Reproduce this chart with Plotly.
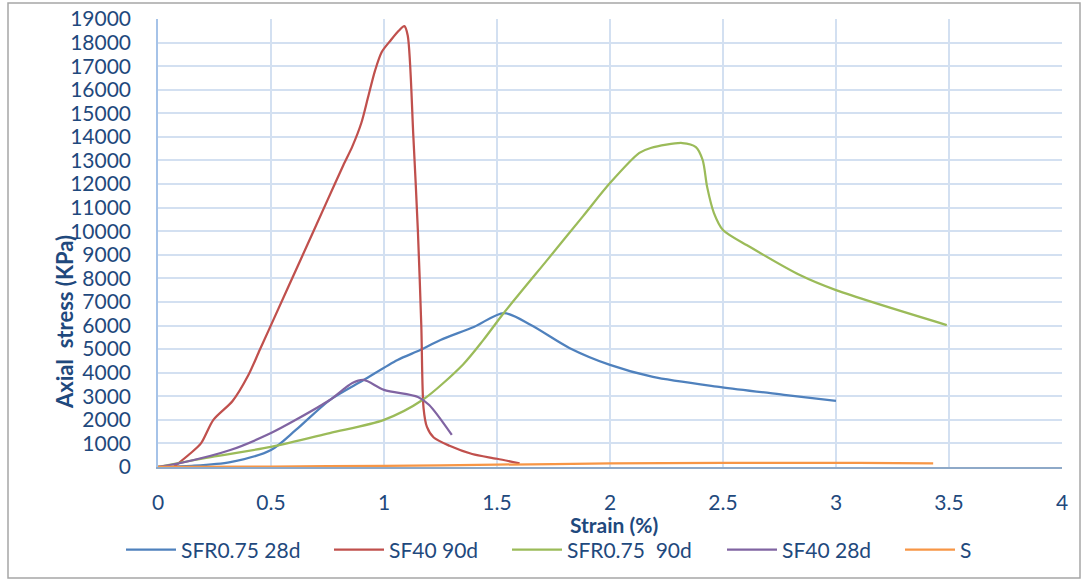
import plotly.graph_objects as go

# ---- data (strain %, axial stress kPa) ----
sfr075_28d_x = [0, 0.15, 0.32, 0.5, 0.61, 0.76, 0.91, 1.06, 1.16, 1.25, 1.4, 1.53, 1.65, 1.82, 2.0, 2.19, 2.49, 2.78, 3.0]
sfr075_28d_y = [0, 50, 210, 720, 1570, 2840, 3690, 4540, 4960, 5390, 5950, 6530, 6020, 5050, 4330, 3820, 3390, 3050, 2800]

sf40_90d_x = [0.07, 0.14, 0.19, 0.245, 0.33, 0.40, 0.45, 0.52, 0.63, 0.75, 0.82, 0.86, 0.9, 0.93, 0.96, 0.99, 1.03, 1.065,
              1.09, 1.105, 1.13, 1.15, 1.165, 1.175, 1.19, 1.22, 1.29, 1.39, 1.5, 1.6]
sf40_90d_y = [0, 550, 1000, 2000, 2800, 3900, 4960, 6440, 8770, 11320, 12800, 13600, 14600, 15700, 16800, 17600, 18100,
              18500, 18700, 18300, 14000, 10000, 6000, 2500, 1700, 1250, 900, 550, 350, 150]

sfr075_90d_x = [0, 0.25, 0.5, 0.76, 1.0, 1.17, 1.35, 1.44, 1.53, 1.73, 1.88, 2.0, 2.13, 2.18, 2.32, 2.38, 2.41, 2.43,
                2.46, 2.5, 2.62, 2.84, 3.0, 3.49]
sfr075_90d_y = [0, 450, 850, 1440, 2000, 2840, 4350, 5390, 6530, 8870, 10630, 12040, 13320, 13530, 13740, 13570, 13020,
                11870, 10770, 10050, 9330, 8140, 7500, 6020]

sf40_28d_x = [0, 0.1, 0.32, 0.5, 0.61, 0.76, 0.86, 0.91, 1.0, 1.15, 1.2, 1.3]
sf40_28d_y = [0, 170, 720, 1440, 2000, 2840, 3560, 3690, 3270, 2970, 2630, 1360]

s_x = [0, 0.5, 1.0, 1.5, 2.0, 2.5, 2.8, 3.1, 3.43]
s_y = [0, 20, 50, 100, 150, 170, 180, 175, 150]

series_names = ["SFR0.75 28d", "SF40 90d", "SFR0.75  90d", "SF40 28d", "S"]
series_x = [sfr075_28d_x, sf40_90d_x, sfr075_90d_x, sf40_28d_x, s_x]
series_y = [sfr075_28d_y, sf40_90d_y, sfr075_90d_y, sf40_28d_y, s_y]
series_colors = ["#4F81BD", "#C0504D", "#9BBB59", "#8064A2", "#F79646"]
legend_px = [121, 329, 507, 722, 900]  # left pixel of each legend entry

x_ticks = [0, 0.5, 1, 1.5, 2, 2.5, 3, 3.5, 4]
y_ticks = list(range(0, 19001, 1000))

TXT = "#1F497D"
FONT = "Lato"
L, R, T, B = 158, 23, 19, 115
PW, PH = 1085 - L - R, 582 - T - B


def px_x(p):
    return (p - L) / PW


def px_y(p):
    return (582 - B - p) / PH


fig = go.Figure()
legend_layouts = {}
for i, (name, xs, ys, col) in enumerate(zip(series_names, series_x, series_y, series_colors)):
    lname = "legend" if i == 0 else f"legend{i + 1}"
    fig.add_trace(go.Scatter(x=xs, y=ys, name=name, mode="lines", legend=lname,
                             line=dict(color=col, width=2.25, shape="spline", smoothing=0.8)))
    legend_layouts[lname] = dict(orientation="h", x=px_x(legend_px[i]), xanchor="left",
                                 y=px_y(550), yanchor="middle",
                                 font=dict(size=21, color=TXT, family=FONT), itemwidth=50,
                                 bgcolor="rgba(0,0,0,0)")

fig.update_layout(
    width=1085, height=582,
    margin=dict(l=L, r=R, t=T, b=B, autoexpand=False),
    paper_bgcolor="white", plot_bgcolor="white",
    font=dict(family=FONT, color=TXT, size=20),
    showlegend=True,
    xaxis=dict(range=[0, 4], tickvals=x_ticks, ticktext=[str(v) for v in x_ticks],
               showgrid=True, gridcolor="#D3E0F1", gridwidth=1.5,
               showline=True, linecolor="#8EA9C8", linewidth=1.5, automargin=False,
               zeroline=False, ticks="", ticklabelstandoff=16,
               tickfont=dict(size=21, color=TXT, family=FONT), fixedrange=True),
    yaxis=dict(range=[0, 19000], tickvals=y_ticks, ticktext=[str(v) for v in y_ticks],
               showgrid=True, gridcolor="#D3E0F1", gridwidth=1.5,
               showline=True, linecolor="#A6C3E8", linewidth=1.5, automargin=False,
               zeroline=False, ticks="", ticklabelstandoff=21,
               tickfont=dict(size=21, color=TXT, family=FONT), fixedrange=True),
    annotations=[
        dict(text="<b>Axial  stress (KPa)</b>", xref="paper", yref="paper",
             x=px_x(64), y=px_y(322), xanchor="center", yanchor="middle",
             textangle=-90, showarrow=False, font=dict(size=22, color=TXT, family=FONT)),
        dict(text="<b>Strain (%)</b>", xref="paper", yref="paper",
             x=px_x(614), y=px_y(524), xanchor="center", yanchor="middle",
             showarrow=False, font=dict(size=21, color=TXT, family=FONT)),
    ],
    shapes=[
        dict(type="rect", xref="paper", yref="paper",
             x0=px_x(8), x1=px_x(1080), y0=px_y(578), y1=px_y(3),
             line=dict(color="#A6A6A6", width=1.5), fillcolor="rgba(0,0,0,0)", layer="below"),
    ],
)
fig.update_layout(**legend_layouts)

fig.write_html("out.html", config={"displayModeBar": False},
               post_script="document.body.style.margin='0';")
